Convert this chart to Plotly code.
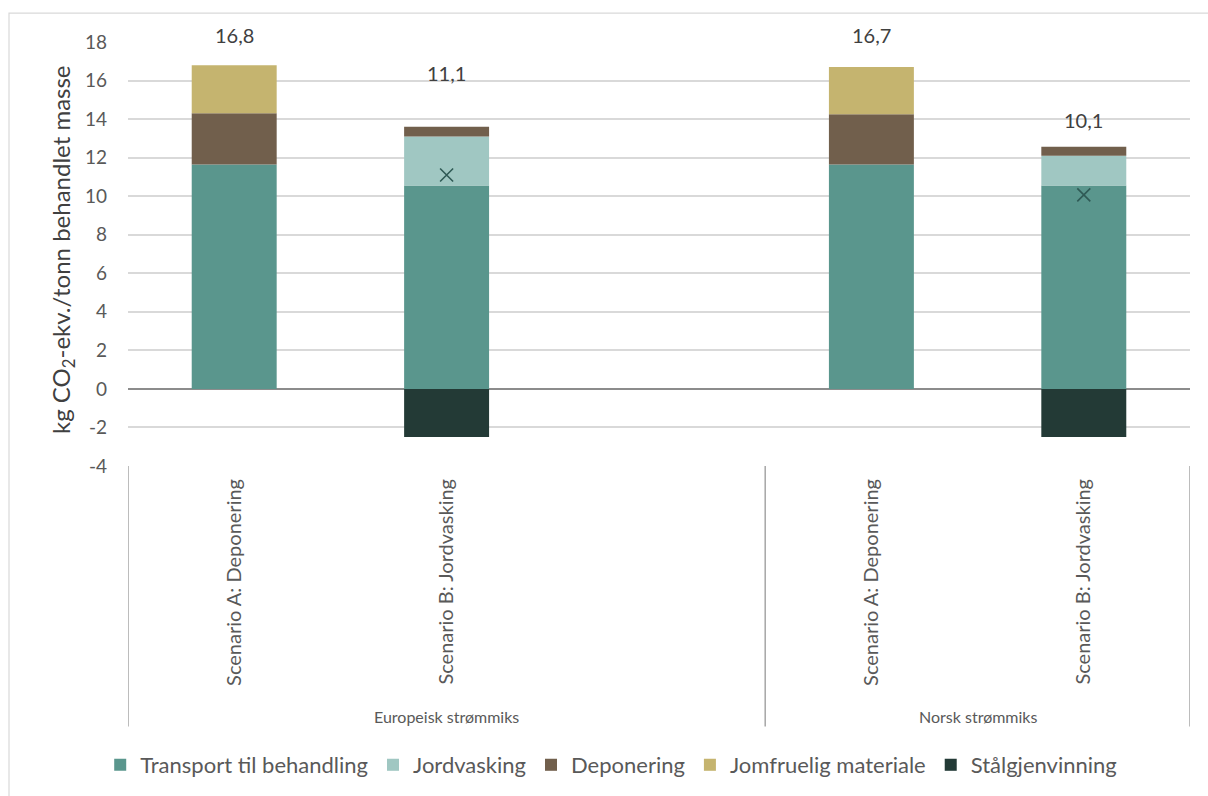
import plotly.graph_objects as go

# Category slots on the x axis (one empty slot separates the two groups)
slot_keys = ["EU-A", "EU-B", "EU-tom", "NO-A", "NO-B"]
slot_labels = ["Scenario A: Deponering", "Scenario B: Jordvasking", "",
               "Scenario A: Deponering", "Scenario B: Jordvasking"]
bar_keys = ["EU-A", "EU-B", "NO-A", "NO-B"]
groups = ["Europeisk strømmiks", "Norsk strømmiks"]

# Contributions, kg CO2-ekv. per tonn behandlet masse
transport = [11.65, 10.55, 11.65, 10.55]
jordvasking = [0, 2.55, 0, 1.55]
deponering = [2.65, 0.50, 2.60, 0.47]
jomfruelig = [2.50, 0, 2.45, 0]
stalgjenvinning = [0, -2.50, 0, -2.50]

# Y-axis ticks
y_ticks = [-4, -2, 0, 2, 4, 6, 8, 10, 12, 14, 16, 18]

series = [
    ("Transport til behandling", transport, "#5A968D"),
    ("Jordvasking", jordvasking, "#A0C7C2"),
    ("Deponering", deponering, "#715F4C"),
    ("Jomfruelig materiale", jomfruelig, "#C5B46F"),
    ("Stålgjenvinning", stalgjenvinning, "#233A36"),
]

net = [round(sum(v), 2) for v in zip(transport, jordvasking, deponering, jomfruelig, stalgjenvinning)]

FONT = "Lato, 'Open Sans', sans-serif"
TXT = "#595959"

fig = go.Figure()
for name, vals, col in series:
    fig.add_trace(go.Bar(
        x=bar_keys, y=vals, name=name, width=0.4,
        marker=dict(color=col, line=dict(width=0)),
    ))

# Net result marker where a negative contribution exists
mx = [k for k, s in zip(bar_keys, stalgjenvinning) if s < 0]
my = [n for n, s in zip(net, stalgjenvinning) if s < 0]
fig.add_trace(go.Scatter(
    x=mx, y=my, mode="markers", showlegend=False,
    marker=dict(symbol="x-thin", size=13, line=dict(width=1.6, color="#2F5A55")),
))

# Net totals as text labels
label_shift = [30, 102, 32, 75]
for k, n, dy in zip(bar_keys, net, label_shift):
    fig.add_annotation(
        x=k, y=n, yshift=dy, text=f"{n:.1f}".replace(".", ","),
        showarrow=False, font=dict(family=FONT, size=20, color="#404040"),
    )

# Group labels below the scenario labels
fig.add_annotation(x=1, y=0, yref="paper", yshift=-250, text=groups[0], showarrow=False,
                   yanchor="middle", font=dict(family=FONT, size=16, color=TXT))
fig.add_annotation(x=3.5, y=0, yref="paper", yshift=-250, text=groups[1], showarrow=False,
                   yanchor="middle", font=dict(family=FONT, size=16, color=TXT))

# Group dividers
for xb in (-0.5, 2.5, 4.5):
    fig.add_shape(type="line", xref="x", yref="paper", x0=xb, x1=xb, y0=0, y1=-261 / 425,
                  line=dict(color="#A6A6A6", width=1.5))

# Outer chart frame
fig.add_shape(type="rect", xref="paper", yref="paper",
              x0=(9 - 128) / 1062, x1=(1230 - 128) / 1062,
              y0=(467 - 820) / 425, y1=(467 - 13) / 425,
              line=dict(color="#D9D9D9", width=1.2), fillcolor="rgba(0,0,0,0)")

# Y-axis title
fig.add_annotation(x=0, xref="paper", xshift=-66, xanchor="center", y=0.5, yref="paper", yshift=4,
                   text="kg CO<sub>2</sub>-ekv./tonn behandlet masse", textangle=-90,
                   showarrow=False, font=dict(family=FONT, size=24, color="#404040"))

fig.update_layout(
    width=1208, height=796,
    margin=dict(l=128, r=18, t=42, b=329),
    paper_bgcolor="white", plot_bgcolor="white",
    barmode="relative", bargap=0.6,
    font=dict(family=FONT, color=TXT),
    legend=dict(orientation="h", x=0.455, xanchor="center", y=(467 - 765) / 425, yanchor="middle",
                font=dict(family=FONT, size=22, color=TXT), itemwidth=30,
                traceorder="normal"),
    xaxis=dict(
        type="category", categoryorder="array", categoryarray=slot_keys,
        range=[-0.5, 4.5], tickmode="array", tickvals=slot_keys, ticktext=slot_labels,
        tickangle=-90, tickfont=dict(family=FONT, size=20, color=TXT),
        showgrid=False, ticks="", ticklabelstandoff=8, showline=False,
    ),
    yaxis=dict(
        range=[-4, 18], tickmode="array", tickvals=y_ticks,
        ticktext=[str(v) for v in y_ticks],
        gridcolor="#D9D9D9", gridwidth=1.5,
        zeroline=True, zerolinecolor="#8C8C8C", zerolinewidth=1.5,
        tickfont=dict(family=FONT, size=19, color=TXT), ticks="", ticklabelstandoff=20,
        showline=False,
    ),
)

fig.write_html("out.html")
